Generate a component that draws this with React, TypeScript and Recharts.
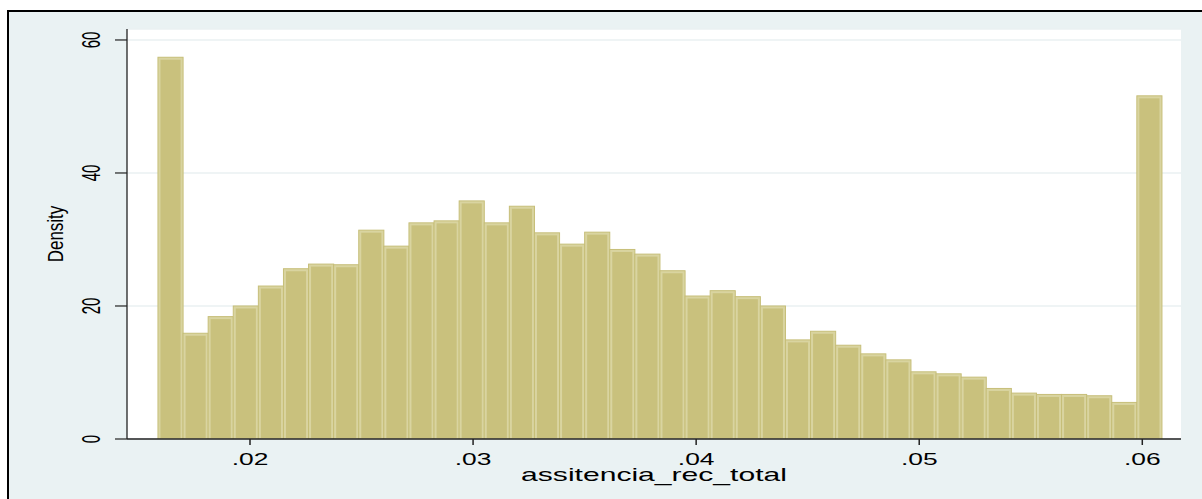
import { ComposedChart, Bar, XAxis, YAxis, CartesianGrid } from 'recharts';

// histogram bins (Stata style)
const binStart = 0.015876;
const binWidth = 0.00112518;
const density = [
  57.4, 15.9, 18.4, 20.0, 23.0, 25.6, 26.3, 26.2, 31.4, 29.0,
  32.5, 32.8, 35.8, 32.5, 35.0, 31.0, 29.3, 31.1, 28.5, 27.8,
  25.3, 21.5, 22.3, 21.4, 20.0, 14.9, 16.2, 14.1, 12.8, 11.9,
  10.1, 9.8, 9.3, 7.6, 6.9, 6.7, 6.7, 6.5, 5.5, 51.6,
];
const xTicks = [0.02, 0.03, 0.04, 0.05, 0.06];
const yTicks = [0, 20, 40, 60];
const xDomain: [number, number] = [0.014486, 0.061735];
const yDomain: [number, number] = [0, 61.65];

const data = density.map((d, i) => ({ x: binStart + binWidth * (i + 0.5), density: d }));

const W = 1202;
const H = 499;
const PLOT_LEFT = 127;
const PLOT_RIGHT = 1181;
const PLOT_TOP = 29;
const PLOT_BOTTOM = 439;
const BIN_PX = (binWidth * (PLOT_RIGHT - PLOT_LEFT)) / (xDomain[1] - xDomain[0]);

const FONT = '"Liberation Sans", Arial, Helvetica, sans-serif';

const fmtX = (v: number) => v.toFixed(2).replace(/^0/, '');

const XTick = ({ x, y, payload }: any) => (
  <text
    transform={`translate(${x},${y + 18}) scale(1.6,1)`}
    textAnchor="middle"
    fontSize={16.5}
    fontFamily={FONT}
    fill="#000"
  >
    {fmtX(payload.value)}
  </text>
);

const YTick = ({ x, y, payload }: any) => (
  <text
    transform={`translate(${x - 13},${y}) rotate(-90) scale(1,1.7)`}
    textAnchor="middle"
    fontSize={15}
    fontFamily={FONT}
    fill="#000"
  >
    {payload.value}
  </text>
);

const HistBar = (props: any) => {
  const { x, width, y, height } = props;
  if (height == null || height <= 0) return null;
  const cx = x + width / 2;
  return (
    <g>
      <rect x={cx - BIN_PX / 2} y={y} width={BIN_PX} height={height} fill="#c9c17d" stroke="#c6be78" strokeWidth={1} />
      <rect x={cx - BIN_PX / 2 + 1.5} y={y + 1.5} width={BIN_PX - 3} height={height - 1.5} fill="none" stroke="#d9d4a0" strokeWidth={2} />
    </g>
  );
};

export default function App() {
  return (
    <div style={{ position: 'absolute', left: 0, top: 0, width: W, height: H, background: '#fff', overflow: 'hidden' }}>
      <div
        style={{
          position: 'absolute',
          left: 7,
          top: 10,
          width: W,
          height: H,
          borderTop: '2px solid #000',
          borderLeft: '2px solid #000',
          background: '#eaf2f3',
        }}
      />
      <div style={{ position: 'absolute', left: 0, top: 0 }}>
        <ComposedChart
          width={W}
          height={H}
          data={data}
          margin={{ top: PLOT_TOP, right: W - PLOT_RIGHT, bottom: 0, left: 0 }}
        >
          <CartesianGrid fill="#fff" vertical={false} stroke="#eaf0f2" strokeWidth={1.5} />
          <XAxis
            dataKey="x"
            type="number"
            domain={xDomain}
            ticks={xTicks}
            allowDataOverflow
            height={H - PLOT_BOTTOM}
            tick={<XTick />}
            tickSize={6}
            axisLine={{ stroke: '#222', strokeWidth: 1.3 }}
            tickLine={{ stroke: '#222', strokeWidth: 1.5 }}
            label={{
              content: ({ viewBox }: any) => (
                <text
                  transform={`translate(${viewBox.x + viewBox.width / 2},${viewBox.y + 42}) scale(1.6,1)`}
                  textAnchor="middle"
                  fontSize={18.8}
                  fontFamily={FONT}
                  fill="#000"
                >
                  assitencia_rec_total
                </text>
              ),
            }}
          />
          <YAxis
            type="number"
            domain={yDomain}
            ticks={yTicks}
            allowDataOverflow
            width={PLOT_LEFT}
            tick={<YTick />}
            tickSize={12}
            axisLine={{ stroke: '#222', strokeWidth: 1.3 }}
            tickLine={{ stroke: '#222', strokeWidth: 1.2 }}
            label={{
              content: ({ viewBox }: any) => (
                <text
                  transform={`translate(${viewBox.x + 63},${viewBox.y + viewBox.height / 2}) rotate(-90) scale(1,1.35)`}
                  textAnchor="middle"
                  fontSize={17}
                  fontFamily={FONT}
                  fill="#000"
                >
                  Density
                </text>
              ),
            }}
          />
          <Bar dataKey="density" shape={<HistBar />} isAnimationActive={false} />
        </ComposedChart>
      </div>
    </div>
  );
}
